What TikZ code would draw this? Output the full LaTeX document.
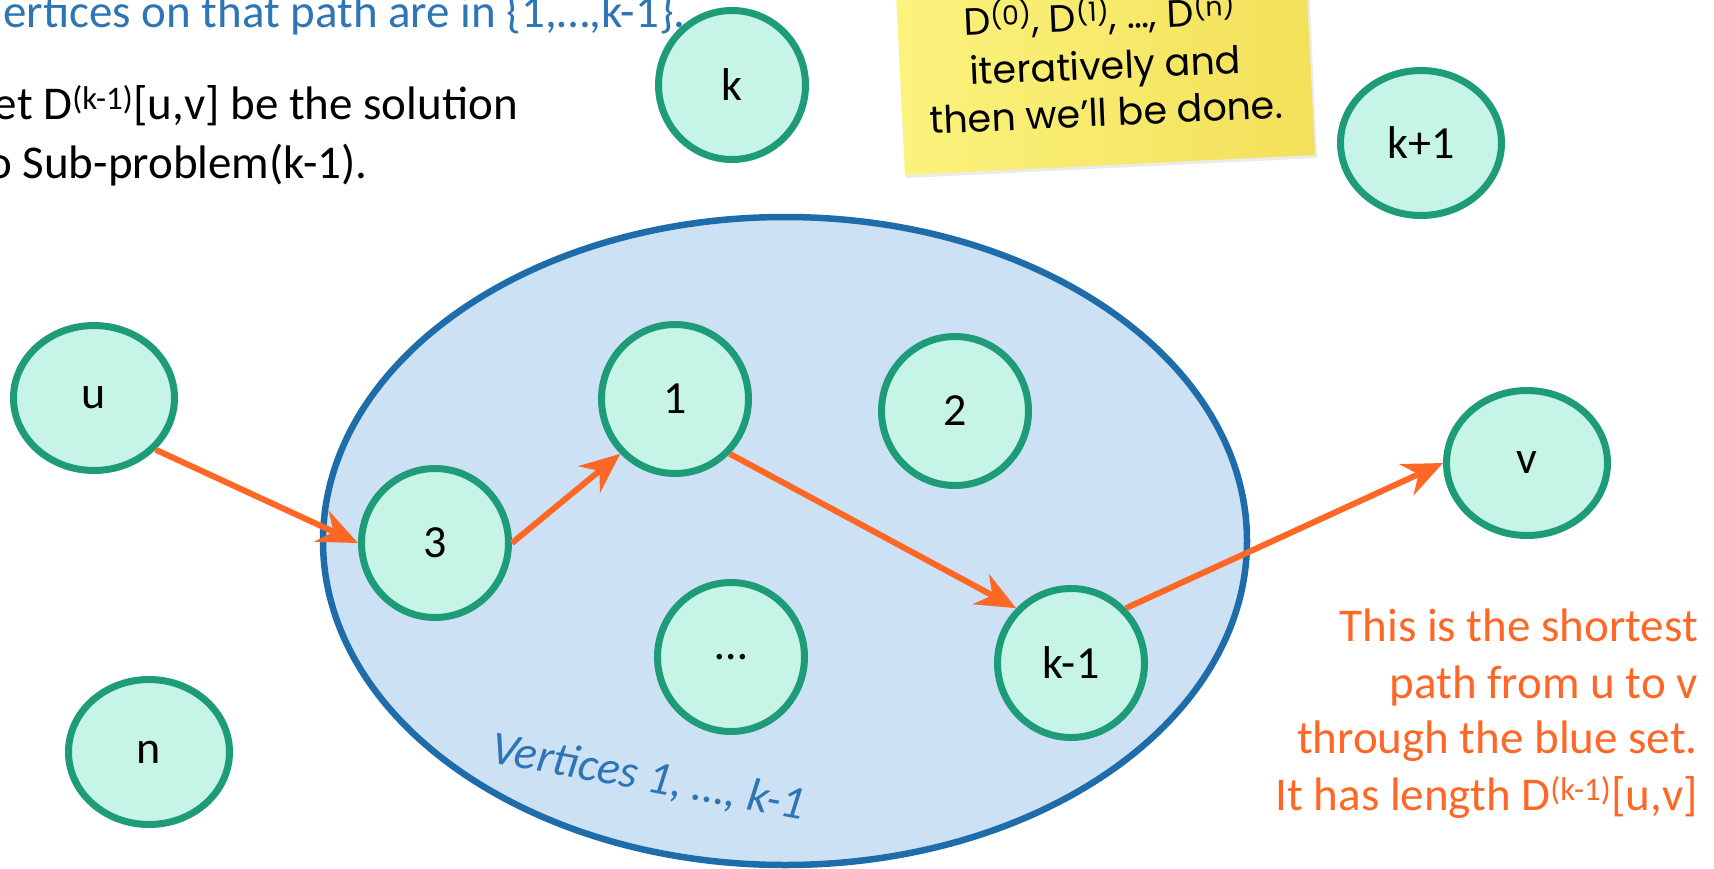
\documentclass[tikz,border=0pt]{standalone}
\usepackage{fontspec}
\setmainfont{Carlito}
\newfontfamily\notefont{Poppins}
\usetikzlibrary{shapes.geometric,arrows.meta}
\definecolor{vfill}{HTML}{C6F4E6}
\definecolor{vline}{HTML}{1E9C78}
\definecolor{setfill}{HTML}{CCE2F4}
\definecolor{setline}{HTML}{1F6CAB}
\definecolor{orng}{HTML}{FF6726}
\definecolor{btxt}{HTML}{2E75B6}
\definecolor{noteL}{HTML}{FBF37E}
\definecolor{noteR}{HTML}{F3E05A}
\begin{document}
\begin{tikzpicture}[x=1pt,y=-1pt,
  vtx/.style={ellipse,draw=vline,fill=vfill,line width=7pt,inner sep=0pt,minimum width=147pt,minimum height=149pt,font=\fontsize{46}{50}\selectfont},
  outv/.style={vtx,minimum width=161pt,minimum height=145pt},
  arr/.style={draw=orng,line width=6pt,-{Stealth[length=40pt,width=34pt,inset=13pt]}},
  txt/.style={font=\fontsize{47}{56}\selectfont,inner sep=0pt},
  otxt/.style={txt,text=orng,anchor=base east},
  notetxt/.style={font=\notefont\fontsize{38}{46}\selectfont,inner sep=0pt,anchor=base,rotate=2.5}
]
\useasboundingbox (0,0) rectangle (1714,868);
\clip (0,0) rectangle (1714,868);
% sticky note
\fill[black!20,opacity=0.4] (906,178) -- (1317,158) -- (1308,-40) -- (897,-20) -- cycle;
\shade[left color=noteL,right color=noteR] (905,175) -- (1315,155) -- (1305,-45) -- (895,-25) -- cycle;
\node[notetxt] (d1) at (1100,30) {D\textsuperscript{(0)}, D\textsuperscript{(1)}, …, D\textsuperscript{(n)}};
\node[notetxt] (d2) at (1106,79) {iteratively and};
\node[notetxt] (d3) at (1107,126) {then we’ll be done.};
% texts top left
\node[txt,text=btxt,anchor=base east] (topline) at (686,27) {ertices on that path are in \{1,…,k-1\}.};
\node[txt,anchor=base east] (let1) at (518,119) {et D\textsuperscript{(k-1)}[u,v] be the solution};
\node[txt,anchor=base east] (let2) at (368,178) {o Sub-problem(k-1).};
% the set
\node[ellipse,draw=setline,fill=setfill,line width=6.5pt,minimum width=924pt,minimum height=648pt,inner sep=0pt] (set) at (785,541) {};
\node[font=\itshape\fontsize{47}{50}\selectfont,text=btxt,rotate=-10.5,inner sep=0pt] (lab) at (648,778) {Vertices 1, …, k-1};
% vertices
\node[outv] (u) at (94,398) {u};
\node[vtx] (k) at (732,85) {k};
\node[outv] (kp1) at (1421,143) {k+1};
\node[vtx] (n1) at (675,399) {1};
\node[vtx] (n2) at (955,411) {2};
\node[vtx] (n3) at (435,543) {3};
\node[vtx] (dots) at (731,657) {…};
\node[vtx] (km1) at (1071,663) {k-1};
\node[outv] (v) at (1527,463) {v};
\node[outv] (nn) at (149,752) {n};
% path
\draw[arr] (u.-40) -- (n3.west);
\draw[arr] (n3.east) -- (n1.-135);
\draw[arr] (n1.-45) -- (km1.135);
\draw[arr] (km1.45) -- (v.west);
% orange text
\node[otxt] (o1) at (1698,641) {This is the shortest};
\node[otxt] (o2) at (1698,698) {path from u to v};
\node[otxt] (o3) at (1698,753) {through the blue set.};
\node[otxt] (o4) at (1698,810) {It has length D\textsuperscript{(k-1)}[u,v]};
\end{tikzpicture}
\end{document}
